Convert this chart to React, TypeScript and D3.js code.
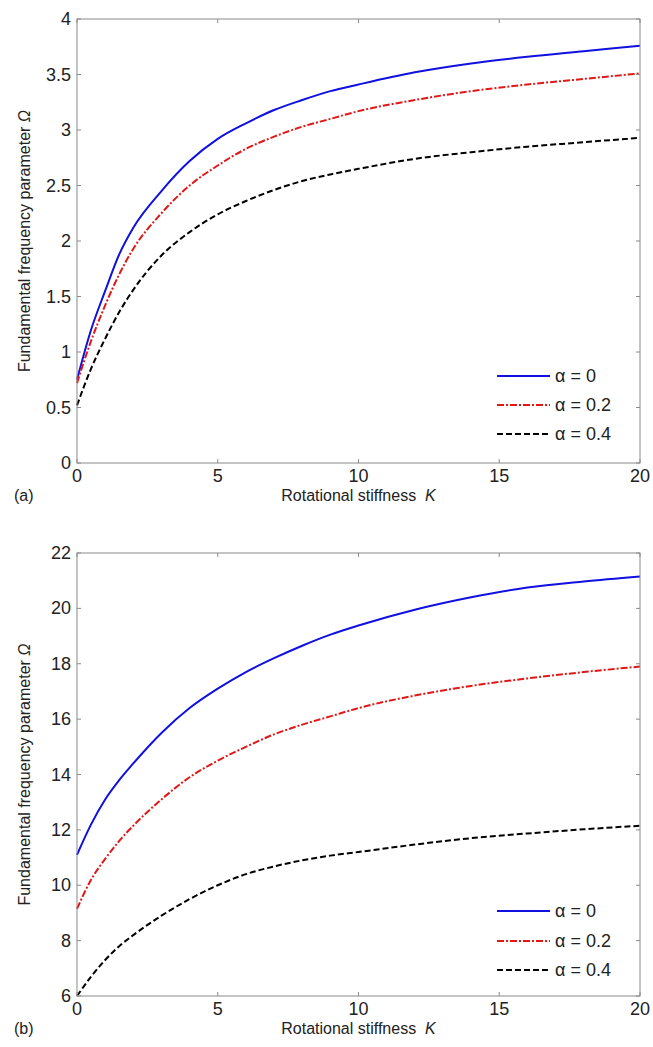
import React from 'react';
import * as d3 from 'd3';

// K values sampled along the curves
const kValues = [0, 0.5, 1, 1.5, 2, 3, 4, 5, 6, 7, 8, 9, 10, 12, 14, 16, 18, 20];

// panel (a)
const aAlpha0 = [0.75, 1.2, 1.55, 1.88, 2.12, 2.45, 2.72, 2.92, 3.06, 3.18, 3.27, 3.35, 3.41, 3.52, 3.6, 3.66, 3.71, 3.76];
const aAlpha02 = [0.72, 1.1, 1.42, 1.7, 1.93, 2.25, 2.5, 2.68, 2.83, 2.94, 3.03, 3.1, 3.17, 3.27, 3.35, 3.41, 3.46, 3.51];
const aAlpha04 = [0.52, 0.85, 1.12, 1.36, 1.56, 1.87, 2.08, 2.24, 2.36, 2.46, 2.54, 2.6, 2.65, 2.74, 2.8, 2.85, 2.89, 2.93];

// panel (b)
const bAlpha0 = [11.1, 12.2, 13.1, 13.8, 14.4, 15.5, 16.4, 17.1, 17.7, 18.2, 18.65, 19.05, 19.38, 19.95, 20.4, 20.75, 20.97, 21.15];
const bAlpha02 = [9.15, 10.2, 10.95, 11.6, 12.15, 13.1, 13.9, 14.5, 15.0, 15.45, 15.8, 16.1, 16.4, 16.85, 17.2, 17.47, 17.7, 17.9];
const bAlpha04 = [6.0, 6.7, 7.3, 7.8, 8.2, 8.9, 9.5, 10.0, 10.4, 10.68, 10.9, 11.07, 11.2, 11.47, 11.7, 11.87, 12.02, 12.15];

const xTicks = [0, 5, 10, 15, 20];
const aYTicks = [0, 0.5, 1, 1.5, 2, 2.5, 3, 3.5, 4];
const bYTicks = [6, 8, 10, 12, 14, 16, 18, 20, 22];
const legendLabels = ['α = 0', 'α = 0.2', 'α = 0.4'];

const seriesStyles = [
  { color: '#1010e0', dash: '' },
  { color: '#e01818', dash: '7,2,2,2' },
  { color: '#000000', dash: '6,3' },
];

const FONT = 'Arial, "Liberation Sans", Helvetica, sans-serif';
const AXIS_COLOR = '#8a8a8a';
const TEXT_COLOR = '#222';

const Panel = ({ top, bottom, yDomain, yTicks, series, tag, legendY }: any) => {
  const left = 77;
  const right = 640;
  const x = d3.scaleLinear().domain([0, 20]).range([left, right]);
  const y = d3.scaleLinear().domain(yDomain).range([bottom, top]);
  const line = d3
    .line<number>()
    .x((_, i) => x(kValues[i]))
    .y((d) => y(d))
    .curve(d3.curveMonotoneX);
  const tickLen = 4;

  return (
    <g>
      {series.map((s: number[], i: number) => (
        <path
          key={i}
          d={line(s) || ''}
          fill="none"
          stroke={seriesStyles[i].color}
          strokeWidth={2}
          strokeDasharray={seriesStyles[i].dash}
        />
      ))}
      <rect x={left} y={top} width={right - left} height={bottom - top} fill="none" stroke={AXIS_COLOR} strokeWidth={1} />
      {xTicks.map((t) => (
        <g key={'x' + t}>
          <line x1={x(t)} x2={x(t)} y1={bottom} y2={bottom - tickLen} stroke={AXIS_COLOR} />
          <line x1={x(t)} x2={x(t)} y1={top} y2={top + tickLen} stroke={AXIS_COLOR} />
          <text x={x(t)} y={bottom + 19} textAnchor="middle" fontSize={18} fontFamily={FONT} fill={TEXT_COLOR}>
            {t}
          </text>
        </g>
      ))}
      {yTicks.map((t: number) => (
        <g key={'y' + t}>
          <line x1={left} x2={left + tickLen} y1={y(t)} y2={y(t)} stroke={AXIS_COLOR} />
          <line x1={right} x2={right - tickLen} y1={y(t)} y2={y(t)} stroke={AXIS_COLOR} />
          <text x={71} y={y(t) + 6} textAnchor="end" fontSize={18} fontFamily={FONT} fill={TEXT_COLOR}>
            {t}
          </text>
        </g>
      ))}
      <text x={(left + right) / 2} y={bottom + 38} textAnchor="middle" fontSize={16} fontFamily={FONT} fill={TEXT_COLOR}>
        Rotational stiffness{'\u00a0 '}
        <tspan fontStyle="italic">K</tspan>
      </text>
      <text x={14} y={bottom + 38} fontSize={16} fontFamily={FONT} fill={TEXT_COLOR}>
        {tag}
      </text>
      <text
        transform={`translate(30, ${(top + bottom) / 2}) rotate(-90)`}
        textAnchor="middle"
        fontSize={16}
        fontFamily={FONT}
        fill={TEXT_COLOR}
      >
        Fundamental frequency parameter <tspan fontStyle="italic">Ω</tspan>
      </text>
      {legendLabels.map((lbl, i) => (
        <g key={lbl}>
          <line
            x1={497}
            x2={550}
            y1={legendY[i]}
            y2={legendY[i]}
            stroke={seriesStyles[i].color}
            strokeWidth={2}
            strokeDasharray={seriesStyles[i].dash}
          />
          <text x={555} y={legendY[i] + 6} fontSize={18} fontFamily={FONT} fill={TEXT_COLOR}>
            {lbl}
          </text>
        </g>
      ))}
    </g>
  );
};

export default function App() {
  return (
    <svg
      width={653}
      height={1047}
      style={{ position: 'absolute', left: 0, top: 0, background: '#fff' }}
    >
      <rect width={653} height={1047} fill="#fff" />
      <Panel
        top={19}
        bottom={463}
        yDomain={[0, 4]}
        yTicks={aYTicks}
        series={[aAlpha0, aAlpha02, aAlpha04]}
        tag="(a)"
        legendY={[376, 405, 434]}
      />
      <Panel
        top={553}
        bottom={996}
        yDomain={[6, 22]}
        yTicks={bYTicks}
        series={[bAlpha0, bAlpha02, bAlpha04]}
        tag="(b)"
        legendY={[911, 941, 970]}
      />
    </svg>
  );
}
